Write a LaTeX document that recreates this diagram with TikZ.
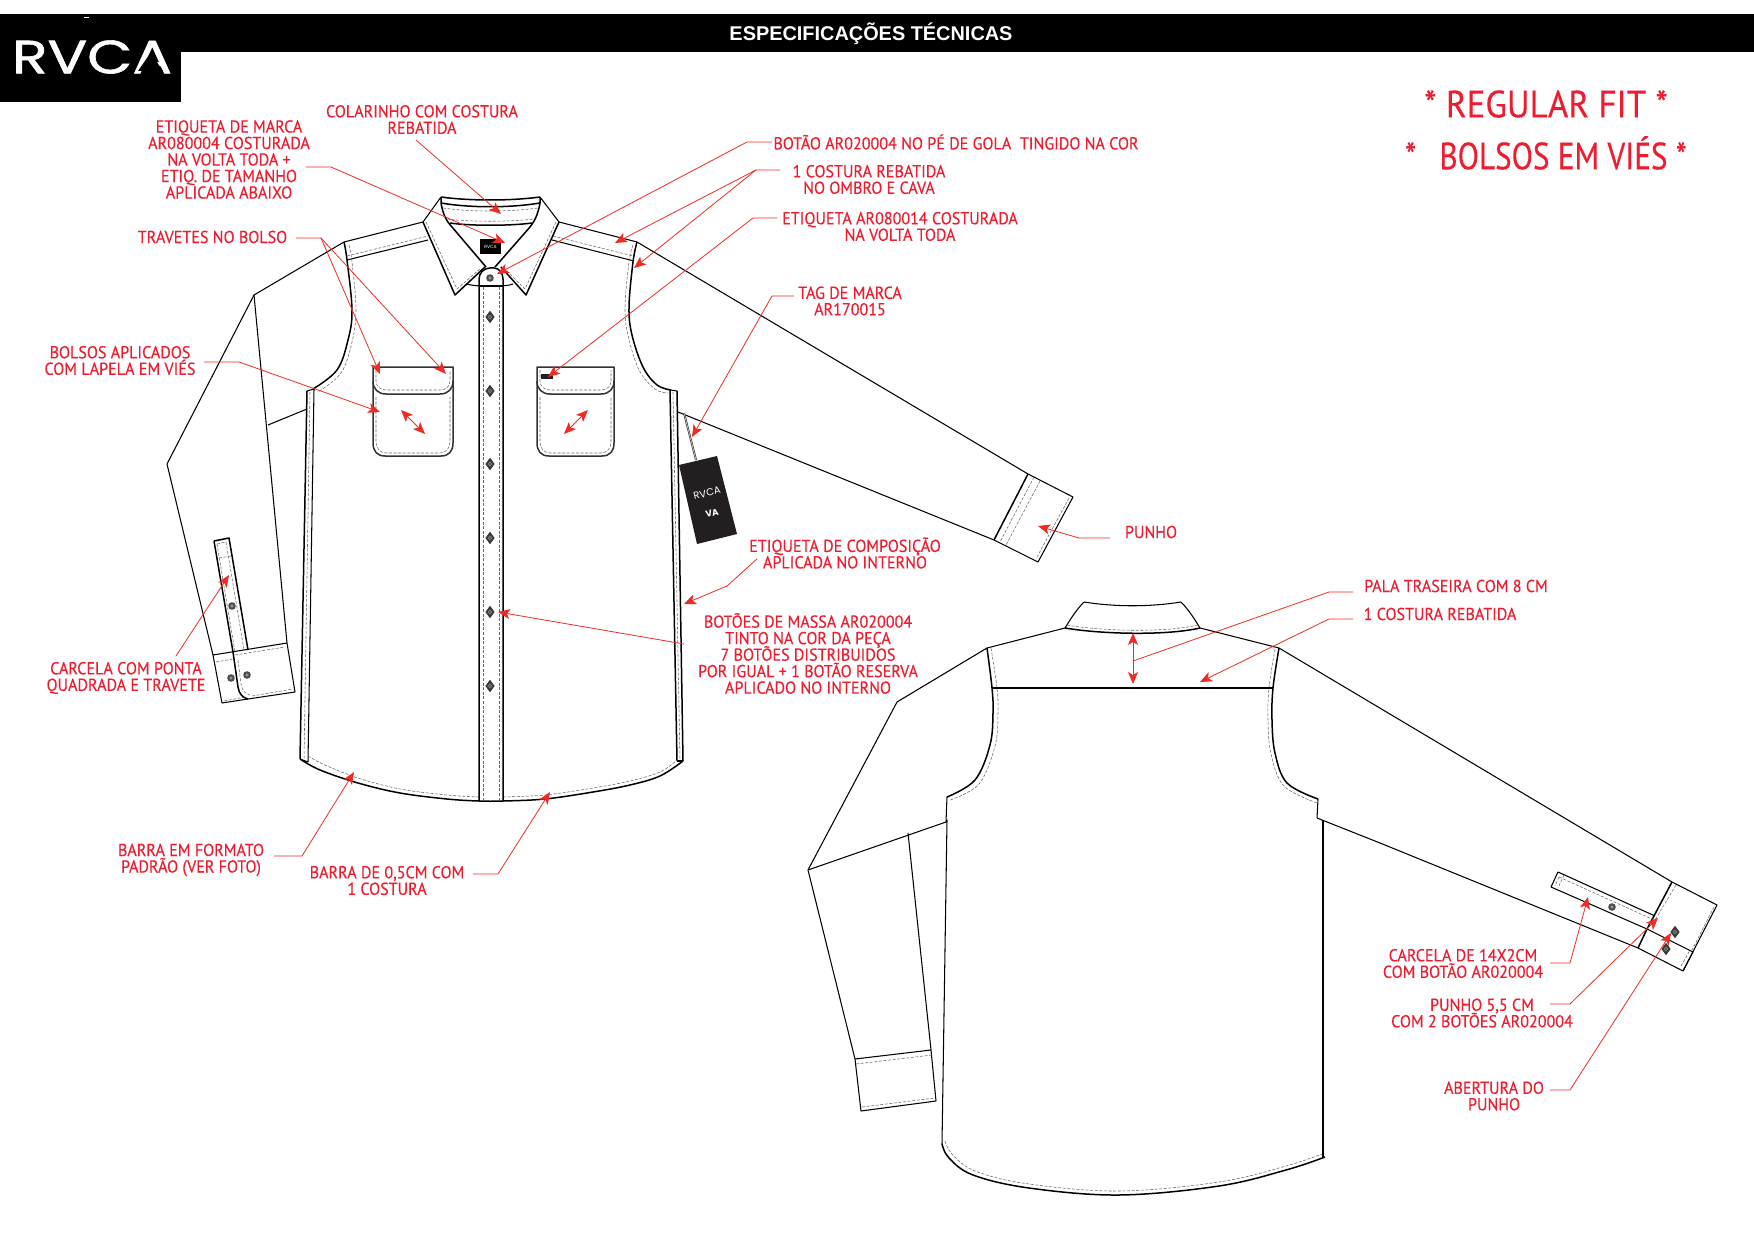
\documentclass[tikz,border=0pt]{standalone}
\usepackage{fontspec}
\usetikzlibrary{arrows.meta}
\newfontfamily\labfont[FakeStretch=.93,FakeBold=.25]{PT Sans}
\newfontfamily\bigfont[FakeStretch=.92,FakeBold=.2]{PT Sans}
\newfontfamily\bigfontb[FakeStretch=.82,FakeBold=.2]{PT Sans}
\newfontfamily\headfont{Liberation Sans}
\newfontfamily\logofont{Poppins}
\newfontfamily\logofontb[FakeBold=1.2]{Poppins}
\definecolor{redtxt}{HTML}{ED1C2E}
\definecolor{redln}{HTML}{EF2B24}
\definecolor{tagblk}{HTML}{231F20}
\lineskiplimit=-20pt
\tikzset{
  lab/.style={text=redtxt,font=\labfont\fontsize{17.3}{16.5}\selectfont,align=center,inner sep=0pt,anchor=center},
  bigt/.style={text=redtxt,font=\bigfont\fontsize{38}{40}\selectfont,inner sep=0pt,anchor=center},
  bigu/.style={text=redtxt,font=\bigfontb\fontsize{38}{40}\selectfont,inner sep=0pt,anchor=center},
  lead/.style={draw=redln,line width=.8pt,-{Stealth[length=12pt,width=10pt,inset=3pt]}},
  leadd/.style={draw=redln,line width=.8pt,{Stealth[length=12pt,width=10pt,inset=3pt]}-{Stealth[length=12pt,width=10pt,inset=3pt]}},
  leadn/.style={draw=redln,line width=.8pt},
  ol/.style={draw=black,line width=1.05pt,line join=round},
  olk/.style={draw=black,line width=1.5pt,line join=round},
  stit/.style={draw=black!60,line width=.55pt,dash pattern=on 3pt off 1.6pt},
  pics/btn/.style={code={
    \fill[black!80] (0,-6.2)--(4.6,0)--(0,6.2)--(-4.6,0)--cycle;
    \fill[black!75] (0,0) circle (3.6);
    \fill[black!30] (0,0) circle (1.9);
    \fill[black] (0,0) circle (.8);}},
  pics/btns/.style={code={
    \fill[black!70] (0,0) circle (3.8);
    \fill[black!25] (0,0) circle (1.6);
    \fill[black] (0,0) circle (.7);}},
}
\begin{document}
\begin{tikzpicture}[x=1pt,y=-1pt]
\useasboundingbox (0,0) rectangle (1754,1241);
% header
\fill[black] (0,14) rectangle (1754,52.5);
\fill[black] (0,14) rectangle (181,102);
\fill[white] (84,17) rectangle (89,18);
\node[inner sep=0pt,text=white,anchor=center] (logo) at (92,57) {\resizebox{160pt}{33pt}{\logofontb RVCA}};
\fill[black] (150.5,53)--(138,71)--(163,71)--cycle;
\node[inner sep=0pt,text=white,font=\headfont\bfseries\fontsize{19.9}{20}\selectfont] (title) at (871,34) {ESPECIFICAÇÕES TÉCNICAS};
% ---------- FRONT SHIRT ----------
% sleeves
\draw[ol] (344,242)--(254,295)--(167,464)--(213,655);
\draw[ol] (254,295)--(287,643);
\draw[ol] (268,425)--(307,409);
\draw[ol] (637,242)--(1028,474)--(1073,497)--(1038,562)--(994,540)--(678,412);
\draw[olk] (1028,474)--(994,540);
\draw[stit] (1034,477)--(1000,542);
\draw[stit] (1040,481)--(1006,545);
\draw[stit] (1069,498)--(1037,557);
% left cuff and placket
\draw[ol] (213,655)--(287,643)--(295,692)--(248,699);
\draw[ol] (213,655)--(222,703)--(248,699);
\draw[olk] (214,541)--(229,538)--(248,650);
\draw[olk] (214,541)--(233,652)--(238,687) .. controls (239,694) and (243,698) .. (248,699);
\draw[stit] (217,544)--(226,542)--(244,650);
\draw[stit] (217,544)--(235,652);
\draw[stit] (219,558)--(231,556);
\draw[stit] (235,655)--(285,647);
\draw[stit] (216,662)--(233,659);
\draw[stit] (224,701)--(245,697);
\draw[stit] (252,696)--(293,689);
\draw[stit] (238,660)--(241,684) .. controls (242,690) and (245,694) .. (250,695);
\path (232,606) pic {btns};
\path (231,678) pic {btns};
\path (247,675) pic {btns};
% body
\draw[ol] (344,242)--(423,222);
\draw[ol] (559,222)--(637,242);
\draw[olk] plot[smooth,tension=.6] coordinates {(344,242)(347,260)(352,310)(348,340)(337,370)(313,389)};
\draw[olk] plot[smooth,tension=.6] coordinates {(637,242)(633,262)(629,307)(632,335)(643,367)(657,385)(671,390)};
\draw[ol] (347,260)--(428,240);
\draw[ol] (552,240)--(634,261);
\draw[stit] (347,256)--(428,236);
\draw[stit] (553,236)--(633,256);
\draw[stit] plot[smooth,tension=.6] coordinates {(349,245)(352,262)(356,310)(352,342)(341,373)(318,392)};
\draw[stit] plot[smooth,tension=.6] coordinates {(633,245)(629,262)(625,307)(628,335)(639,370)(655,389)(668,393)};
% side panels
\draw[ol] (307,391)--(314,389);
\draw[olk] (307,391)--(300,759);
\draw[ol] (314,389)--(308,762);
\draw[stit] (310,392)--(304,760);
\draw[ol] (670,390)--(677,391);
\draw[olk] (670,390)--(677,761);
\draw[olk] (677,391)--(683,761);
\draw[stit] (673,392)--(680,760);
% hem
\draw[olk] plot[smooth,tension=.6] coordinates {(300,759)(320,770)(358,783)(400,793)(447,799)(479,801)(503,801)(545,799)(593,792)(630,785)(660,776)(683,761)};
\draw[stit] plot[smooth,tension=.6] coordinates {(308,756)(325,765)(358,778)(400,789)(447,795)(479,797)};
\draw[stit] plot[smooth,tension=.6] coordinates {(503,797)(545,795)(593,788)(630,781)(660,772)(677,760)};
\draw[ol] (300,759)--(308,762);
\draw[ol] (677,761)--(683,761);
% placket
\draw[olk] (479,801)--(479,279) .. controls (479,273) and (484,268) .. (490,268)--(494,268) .. controls (499,268) and (503,273) .. (503,279)--(503,801);
\draw[ol] (479,286)--(503,286);
\draw[stit] (483,287)--(483,800);
\draw[stit] (499,287)--(499,800);
\path (490,278) pic {btns};
\path (490,317) pic {btn};
\path (490,391) pic {btn};
\path (490,464) pic {btn};
\path (490,538) pic {btn};
\path (490,612) pic {btn};
\path (490,686) pic {btn};
% collar
\draw[olk] (441,197) .. controls (470,201) and (510,201) .. (540,197);
\draw[olk] (441,203) .. controls (470,208) and (510,208) .. (540,203);
\draw[olk] (450,223) .. controls (470,226) and (510,226) .. (532,223);
\draw[stit] (443,208) .. controls (470,212) and (510,212) .. (538,208);
\draw[stit] (447,219) .. controls (470,222) and (510,222) .. (534,219);
\draw[ol] (441,197)--(423,222);
\draw[ol] (540,197)--(559,222);
\draw[olk] (423,222)--(455,295)--(485,267);
\draw[olk] (559,222)--(526,295)--(501,267);
\draw[olk] (441,197)--(441,203) .. controls (443,215) and (447,222) .. (452,227)--(486,267);
\draw[olk] (540,197)--(540,203) .. controls (538,215) and (534,222) .. (530,227)--(495,267);
\draw[stit] (426,222)--(457,289)--(481,268);
\draw[stit] (556,222)--(525,289)--(504,268);
\draw[ol] (467,284) .. controls (475,287) and (507,287) .. (513,284);
% neck label
\fill[black] (480,239) rectangle (501,254);
\node[inner sep=0pt,text=white,font=\logofont\fontsize{4.5}{5}\selectfont] (nlab) at (490.5,246.5) {RVCA};
% pockets
\draw[olk,draw=black!80] (373,367)--(453,367)--(453,443) .. controls (453,451) and (449,456) .. (441,456)--(385,456) .. controls (377,456) and (373,451) .. (373,443)--cycle;
\draw[olk,draw=black!80] (373,381) .. controls (373,389) and (378,394) .. (386,394)--(440,394) .. controls (448,394) and (453,389) .. (453,381);
\draw[stit] (376,370)--(376,381) .. controls (376,386) and (380,390) .. (386,390)--(440,390) .. controls (446,390) and (450,386) .. (450,381)--(450,370);
\draw[stit] (376,397)--(376,442) .. controls (376,448) and (380,453) .. (386,453)--(440,453) .. controls (446,453) and (450,448) .. (450,442)--(450,397);
\draw[olk,draw=black!80] (537,367)--(614,367)--(614,443) .. controls (614,451) and (610,456) .. (602,456)--(549,456) .. controls (541,456) and (537,451) .. (537,443)--cycle;
\draw[olk,draw=black!80] (537,381) .. controls (537,389) and (542,394) .. (550,394)--(601,394) .. controls (609,394) and (614,389) .. (614,381);
\draw[stit] (540,370)--(540,381) .. controls (540,386) and (544,390) .. (550,390)--(601,390) .. controls (607,390) and (611,386) .. (611,381)--(611,370);
\draw[stit] (540,397)--(540,442) .. controls (540,448) and (544,453) .. (550,453)--(601,453) .. controls (607,453) and (611,448) .. (611,442)--(611,397);
\fill[tagblk] (541,374) rectangle (553,379);
% tag
\draw[draw=black!75,line width=2pt] (684,413)--(696,460);
\draw[white,line width=.4pt] (684,413)--(696,460);
\fill[tagblk] (679,465)--(717,456)--(737,534)--(697,544)--cycle;
\node[inner sep=0pt,text=white,rotate=13,font=\logofont\fontsize{10}{10}\selectfont] (tag1) at (707,493) {RVCA};
\node[inner sep=0pt,text=white,rotate=13,font=\logofont\bfseries\fontsize{9}{10}\selectfont] (tag2) at (712,513) {VA};
% ---------- BACK SHIRT ----------
\draw[ol] (987,648)--(897,702)--(808,870)--(855,1059);
\draw[ol] (808,870)--(946,822);
\draw[ol] (908,833)--(931,1050);
\draw[ol] (855,1059)--(931,1050)--(936,1101)--(861,1111)--cycle;
\draw[stit] (856,1064)--(932,1055);
\draw[stit] (862,1107)--(935,1098);
\draw[ol] (1279,648)--(1672,882)--(1717,905)--(1683,971)--(1638,948)--(1380,843)--(1317,818);
\draw[olk] (1672,882)--(1647,929);
\draw[olk] (1647,929)--(1638,948);
\draw[ol] (1558,872)--(1551,887)--(1647,929)--(1693,952)--(1683,971);
\draw[ol] (1558,872)--(1655,916);
\draw[stit] (1559,877)--(1654,920);
\draw[stit] (1559,877)--(1555,886);
\draw[stit] (1564,875)--(1558,888);
\draw[stit] (1676,885)--(1652,925);
\draw[stit] (1714,907)--(1692,950);
\draw[stit] (1681,966)--(1690,950);
\path (1612,907) pic {btns};
\path (1675,932) pic {btn};
\path (1666,949) pic {btn};
\draw[ol] (1084,602) .. controls (1115,607) and (1150,607) .. (1181,602);
\draw[ol] (1084,602) .. controls (1076,610) and (1070,620) .. (1065,628);
\draw[ol] (1181,602) .. controls (1189,610) and (1195,620) .. (1200,628);
\draw[olk] (1065,628) .. controls (1100,634) and (1165,636) .. (1200,628);
\draw[stit] (1067,625) .. controls (1100,631) and (1165,633) .. (1198,625);
\draw[ol] (1065,628)--(987,648);
\draw[ol] (1200,628)--(1279,648);
\draw[olk] plot[smooth,tension=.6] coordinates {(987,648)(992,688)(993,713)(990,745)(975,780)(947,797)};
\draw[olk] plot[smooth,tension=.6] coordinates {(1279,648)(1273,688)(1272,720)(1275,753)(1287,783)(1318,799)};
\draw[stit] plot[smooth,tension=.6] coordinates {(991,648)(997,688)(998,713)(995,746)(979,784)(950,800)};
\draw[stit] plot[smooth,tension=.6] coordinates {(1275,649)(1269,688)(1268,720)(1271,754)(1284,786)(1317,803)};
\draw[ol] (992,688)--(1273,688);
\draw[ol] (947,797)--(946,822)--(947,820)--(942,1144);
\draw[ol] (1318,799)--(1317,818);
\draw[ol] (1323,820)--(1323,1158);
\draw[olk] plot[smooth,tension=.6] coordinates {(942,1144)(949,1158)(973,1175)(1029,1188)(1119,1195)(1219,1186)(1286,1170)(1325,1157)};
\draw[stit] plot[smooth,tension=.6] coordinates {(945,1141)(952,1154)(975,1171)(1029,1184)(1119,1191)(1219,1182)(1286,1166)(1322,1154)};
% ---------- TEXTS ----------
\node[bigt] (fit) at (1546,104) {* REGULAR FIT *};
\node[bigu] (vies) at (1546,153) {*\hspace{15pt} BOLSOS EM VIÉS *};
\node[lab] (a1) at (229,159.5) {ETIQUETA DE MARCA\\AR080004 COSTURADA\\NA VOLTA TODA +\\ETIQ. DE TAMANHO\\APLICADA ABAIXO};
\node[lab] (a2) at (422,119.5) {COLARINHO COM COSTURA\\REBATIDA};
\node[lab] (a3) at (212.5,237) {TRAVETES NO BOLSO};
\node[lab] (a4) at (120,360.5) {BOLSOS APLICADOS\\COM LAPELA EM VIÉS};
\node[lab] (a5) at (956,142) {BOTÃO AR020004 NO PÉ DE GOLA\ \ TINGIDO NA COR};
\node[lab] (a6) at (869,179.5) {1 COSTURA REBATIDA\\NO OMBRO E CAVA};
\node[lab] (a7) at (900,226.5) {ETIQUETA AR080014 COSTURADA\\NA VOLTA TODA};
\node[lab] (a8) at (850,301) {TAG DE MARCA\\AR170015};
\node[lab] (a9) at (1151,532) {PUNHO};
\node[lab] (a10) at (845,553) {ETIQUETA DE COMPOSIÇÃO\\APLICADA NO INTERNO};
\node[lab] (a11) at (808,653.5) {BOTÕES DE MASSA AR020004\\TINTO NA COR DA PEÇA\\7 BOTÕES DISTRIBUIDOS\\POR IGUAL + 1 BOTÃO RESERVA\\APLICADO NO INTERNO};
\node[lab] (a12) at (126,678) {CARCELA COM PONTA\\QUADRADA E TRAVETE};
\node[lab] (a13) at (191,860) {BARRA EM FORMATO\\PADRÃO (VER FOTO)};
\node[lab] (a14) at (387,880.5) {BARRA DE 0,5CM COM\\1 COSTURA};
\node[lab] (a15) at (1456,586) {PALA TRASEIRA COM 8 CM};
\node[lab] (a16) at (1440,614) {1 COSTURA REBATIDA};
\node[lab] (a17) at (1463,963.5) {CARCELA DE 14X2CM\\COM BOTÃO AR020004};
\node[lab] (a18) at (1482,1013) {PUNHO 5,5 CM\\COM 2 BOTÕES AR020004};
\node[lab] (a19) at (1494,1096) {ABERTURA DO\\PUNHO};
% ---------- LEADERS ----------
\foreach \n/\x/\y in {s1/306/167,k1/331/167,t1/505/243,
  s2/416/140,t2/501/214,
  s3/296/238,k3/321/238,t3a/380/374,t3b/446/374,
  s4/204/362,k4/239/362,t4/380/412,
  s5/772/142,k5/747/142,t5/497/274,
  s6/780/170,k6/756/170,t6a/615/243,t6b/634/268,
  s7/777/218,k7/753/218,t7/548/377,
  s8/794/296,k8/772/296,t8/692/437,
  s9/1110/538,k9/1079/538,t9/1038/526,
  s10/757/559,k10/727/586,t10/684/604,
  s11/684/644,t11/498/612,
  s12/176/656,t12/229/575,
  s13/274/856,k13/302/856,t13/354/772,
  s14/473/874,k14/498/874,t14/550/792,
  s15/1353/592,k15/1329/592,t15/1133/661,
  s16/1353/619,k16/1329/619,t16/1200/682,
  s17/1550/963,k17/1570/963,t17/1588/897,
  s18/1550/1004,k18/1570/1004,t18/1658/918,
  s19/1550/1090,k19/1570/1090,t19/1671/933,
  d1a/401/410,d1b/425/434,d2a/588/410,d2b/564/434,d3a/1133/633,d3b/1133/684}
  {\coordinate (\n) at (\x,\y);}
\draw[lead] (s1)--(k1)--(t1);
\draw[lead] (s2)--(t2);
\draw[lead] (s3)--(k3)--(t3a);
\draw[lead] (k3)--(t3b);
\draw[lead] (s4)--(k4)--(t4);
\draw[lead] (s5)--(k5)--(t5);
\draw[lead] (s6)--(k6)--(t6a);
\draw[lead] (k6)--(t6b);
\draw[lead] (s7)--(k7)--(t7);
\draw[lead] (s8)--(k8)--(t8);
\draw[lead] (s9)--(k9)--(t9);
\draw[lead] (s10)--(k10)--(t10);
\draw[lead] (s11)--(t11);
\draw[lead] (s12)--(t12);
\draw[lead] (s13)--(k13)--(t13);
\draw[lead] (s14)--(k14)--(t14);
\draw[leadn] (s15)--(k15)--(t15);
\draw[lead] (s16)--(k16)--(t16);
\draw[lead] (s17)--(k17)--(t17);
\draw[lead] (s18)--(k18)--(t18);
\draw[lead] (s19)--(k19)--(t19);
\draw[leadd] (d1a)--(d1b);
\draw[leadd] (d2a)--(d2b);
\draw[leadd] (d3a)--(d3b);
\end{tikzpicture}
\end{document}
